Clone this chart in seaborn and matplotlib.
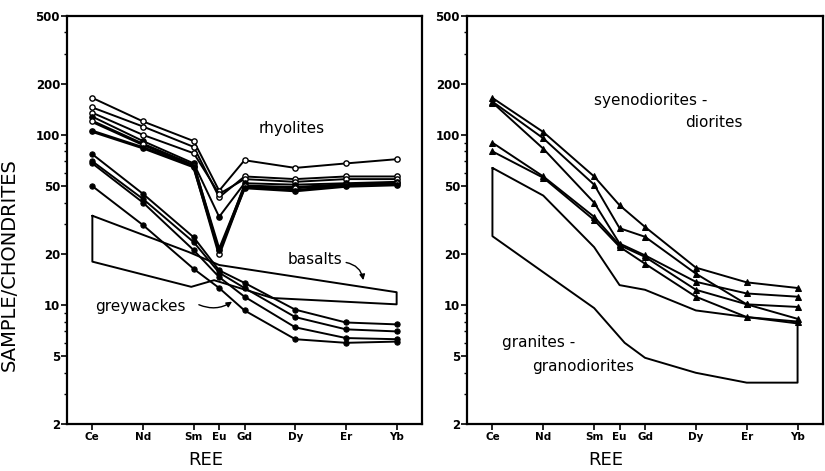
import numpy as np
import pandas as pd
import matplotlib
matplotlib.use("Agg")
import matplotlib.pyplot as plt
from matplotlib.ticker import FixedLocator, LogLocator, NullFormatter
import seaborn as sns

# ---------------- data ----------------
ree = ['Ce', 'Nd', 'Sm', 'Eu', 'Gd', 'Dy', 'Er', 'Yb']
atomic_number = [58, 60, 62, 63, 64, 66, 68, 70]

# rhyolites (chondrite-normalised)
rhy_1 = [165, 120, 92, 47, 71, 64, 68, 72]
rhy_2 = [145, 112, 85, 43, 57, 55, 57, 57]
rhy_3 = [135, 100, 78, 45, 55, 53, 55, 55]
rhy_4 = [128, 92, 68, 33, 52, 51, 52, 53]
rhy_5 = [120, 88, 66, 20, 50, 49, 51, 52]
rhy_6 = [105, 84, 65, 21, 49, 47, 50, 51]

# greywackes
grey_1 = [77, 45, 25, 16, 13.5, 9.4, 7.9, 7.7]
grey_2 = [70, 42, 23.4, 15.5, 12.6, 8.5, 7.2, 7.0]
grey_3 = [68, 40, 21, 14.6, 11.2, 7.4, 6.4, 6.3]
grey_4 = [50, 29.5, 16.3, 12.6, 9.3, 6.3, 6.0, 6.1]

# basalt field outline
basalt_x = [58, 61.8, 63, 70, 70, 65.1, 62.8, 61.9, 58, 58]
basalt_y = [33.5, 20.5, 17.2, 11.9, 10.1, 11.0, 14.0, 12.8, 18, 33.5]

# syenodiorites - diorites
syen_1 = [165, 104, 57, 38.6, 28.8, 16.6, 13.6, 12.6]
syen_2 = [157, 95.5, 51, 28.3, 25.2, 15.3, 10.1, 8.3]
syen_3 = [155, 83, 40, 23, 19.6, 13.7, 11.7, 11.2]
syen_4 = [90, 57, 33, 22.5, 19.2, 12.3, 10.1, 9.75]
syen_5 = [80, 56, 31.6, 22, 17.5, 11.2, 8.5, 8.0]

# granites - granodiorites field outline
granite_x = [58, 60, 62, 63, 64, 66, 68, 70, 70, 68, 66, 64, 63.2, 62, 60, 58, 58]
granite_y = [64, 44, 21.9, 13.1, 12.3, 9.3, 8.5, 7.8, 3.5, 3.5, 4.0, 4.9, 6.0, 9.6, 15.6, 25.4, 64]

y_major = [2, 5, 10, 20, 50, 100, 200, 500]
y_major_labels = ['2', '5', '10', '20', '50', '100', '200', '500']


def series_frame(name, values):
    return pd.DataFrame({'Z': atomic_number, 'REE': ree, 'value': values, 'sample': name})


# ---------------- figure ----------------
sns.set_theme(style="ticks")
plt.rcParams['font.family'] = ['DejaVu Sans']
plt.rcParams['text.color'] = 'black'
plt.rcParams['axes.labelcolor'] = 'black'
plt.rcParams['xtick.color'] = 'black'
plt.rcParams['ytick.color'] = 'black'

fig = plt.figure(figsize=(8.25, 4.71), dpi=100)
ax1 = fig.add_axes([67 / 825, 47 / 471, 355 / 825, 408 / 471])
ax2 = fig.add_axes([467 / 825, 47 / 471, 356 / 825, 408 / 471])

lw = 1.4
ms = 3.8

# rhyolites
rhy_series = [('r1', rhy_1, 'white', lw), ('r2', rhy_2, 'white', lw), ('r3', rhy_3, 'white', lw),
              ('r4', rhy_4, 'black', lw), ('r5', rhy_5, 'white', 2.3), ('r6', rhy_6, 'black', 2.3)]
for name, vals, face, w in rhy_series:
    sns.lineplot(data=series_frame(name, vals), x='Z', y='value', ax=ax1, sort=False,
                 color='black', lw=w, marker='o', markersize=ms,
                 markerfacecolor=face, markeredgecolor='black', markeredgewidth=1.0)

# greywackes
for name, vals in [('g1', grey_1), ('g2', grey_2), ('g3', grey_3), ('g4', grey_4)]:
    sns.lineplot(data=series_frame(name, vals), x='Z', y='value', ax=ax1, sort=False,
                 color='black', lw=lw, marker='o', markersize=ms,
                 markerfacecolor='black', markeredgecolor='black')

# basalt field
ax1.plot(basalt_x, basalt_y, color='black', lw=1.4)

# syenodiorites
for name, vals in [('s1', syen_1), ('s2', syen_2), ('s3', syen_3), ('s4', syen_4), ('s5', syen_5)]:
    sns.lineplot(data=series_frame(name, vals), x='Z', y='value', ax=ax2, sort=False,
                 color='black', lw=lw, marker='^', markersize=ms,
                 markerfacecolor='black', markeredgecolor='black')

# granite field
ax2.plot(granite_x, granite_y, color='black', lw=1.4)

for ax in (ax1, ax2):
    ax.set_yscale('log')
    ax.set_ylim(2, 500)
    ax.set_xlim(57, 71)
    ax.yaxis.set_major_locator(FixedLocator(y_major))
    ax.set_yticklabels(y_major_labels)
    ax.yaxis.set_minor_locator(LogLocator(base=10, subs=np.arange(1, 10)))
    ax.yaxis.set_minor_formatter(NullFormatter())
    ax.set_xticks(atomic_number)
    ax.set_xticklabels(ree, fontsize=7.5, fontweight='bold')
    ax.tick_params(axis='y', which='major', direction='out', length=4, width=1.2,
                   labelsize=8.5, pad=1, colors='black')
    ax.tick_params(axis='y', which='minor', direction='out', length=2.5, width=1.0, colors='black')
    ax.tick_params(axis='x', which='major', direction='out', length=4, width=1.2, pad=2, colors='black')
    for lab in ax.get_yticklabels():
        lab.set_fontweight('bold')
    for sp in ax.spines.values():
        sp.set_visible(True)
        sp.set_color('black')
        sp.set_linewidth(1.6)
    ax.set_xlabel('REE', fontsize=13, color='black')
    ax.xaxis.set_label_coords(0.39, -0.065)
    ax.set_ylabel('')
    ax.grid(False)

ax1.set_ylabel('SAMPLE/CHONDRITES', fontsize=14, color='black')
ax1.yaxis.set_label_coords(-0.135, 0.39)

# labels in left panel
ax1.text(0.634, 0.725, 'rhyolites', transform=ax1.transAxes, ha='center', va='center', fontsize=11, color='black')
ax1.text(0.699, 0.404, 'basalts', transform=ax1.transAxes, ha='center', va='center', fontsize=11, color='black')
ax1.text(0.208, 0.287, 'greywackes', transform=ax1.transAxes, ha='center', va='center', fontsize=11, color='black')
ax1.annotate('', xy=(68.7, 13.5), xytext=(67.9, 17.9),
             arrowprops=dict(arrowstyle='-|>', color='black', lw=1.0,
                             connectionstyle='arc3,rad=-0.4', mutation_scale=8))
ax1.annotate('', xy=(63.6, 10.7), xytext=(62.1, 10.2),
             arrowprops=dict(arrowstyle='-|>', color='black', lw=1.0,
                             connectionstyle='arc3,rad=0.3', mutation_scale=8))

# labels in right panel
ax2.text(0.517, 0.794, 'syenodiorites -', transform=ax2.transAxes, ha='center', va='center', fontsize=11, color='black')
ax2.text(0.694, 0.738, 'diorites', transform=ax2.transAxes, ha='center', va='center', fontsize=11, color='black')
ax2.text(0.2, 0.199, 'granites -', transform=ax2.transAxes, ha='center', va='center', fontsize=11, color='black')
ax2.text(0.326, 0.142, 'granodiorites', transform=ax2.transAxes, ha='center', va='center', fontsize=11, color='black')

fig.savefig('out.png', dpi=100, facecolor='white')
